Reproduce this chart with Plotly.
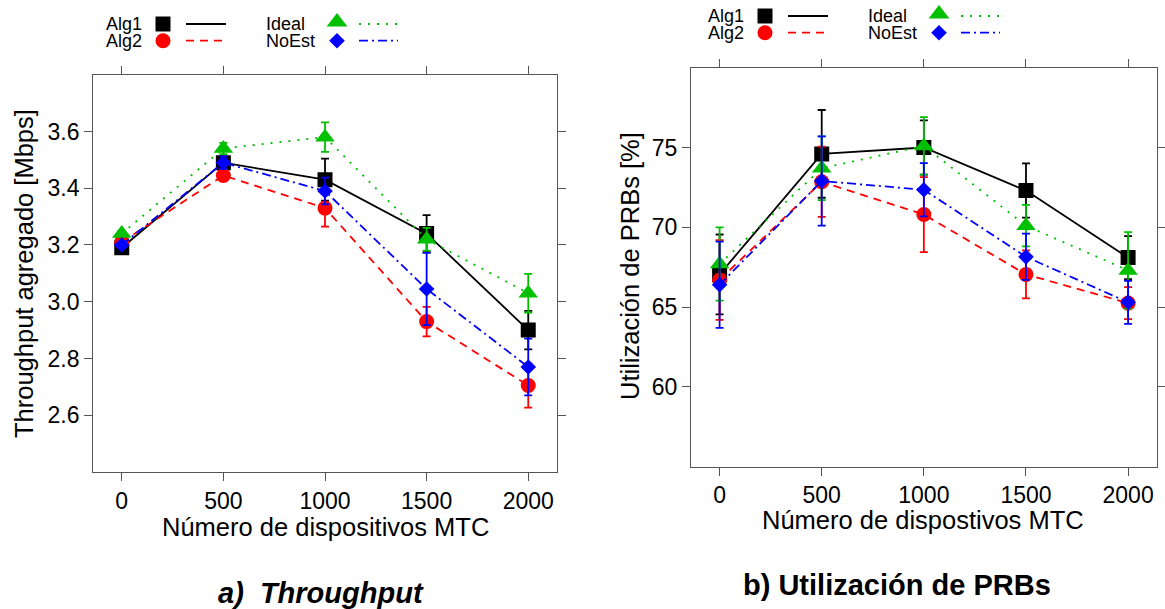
import plotly.graph_objects as go

W, H = 1165, 609

x_vals = [0, 500, 1000, 1500, 2000]
x_ticks = [0, 500, 1000, 1500, 2000]

# Throughput agregado [Mbps]
alg1_tp = [3.19, 3.49, 3.43, 3.24, 2.90]
alg1_tp_err = [0.01, 0.02, 0.074, 0.065, 0.068]
alg2_tp = [3.21, 3.445, 3.33, 2.93, 2.705]
alg2_tp_err = [0.015, 0.02, 0.065, 0.052, 0.078]
ideal_tp = [3.24, 3.54, 3.58, 3.22, 3.03]
ideal_tp_err = [0.01, 0.02, 0.052, 0.04, 0.068]
noest_tp = [3.20, 3.49, 3.39, 3.045, 2.77]
noest_tp_err = [0.01, 0.022, 0.047, 0.127, 0.10]
tp_ticks = [2.6, 2.8, 3.0, 3.2, 3.4, 3.6]

# Utilización de PRBs [%]
alg1_prb = [67.05, 74.6, 75.0, 72.3, 68.1]
alg1_prb_err = [2.5, 2.75, 1.7, 1.7, 1.35]
alg2_prb = [66.7, 72.85, 70.8, 67.05, 65.25]
alg2_prb_err = [2.5, 2.2, 2.35, 1.5, 1.0]
ideal_prb = [67.7, 73.7, 75.1, 70.1, 67.3]
ideal_prb_err = [2.3, 2.0, 1.8, 1.3, 2.4]
noest_prb = [66.4, 72.9, 72.35, 68.15, 65.3]
noest_prb_err = [2.7, 2.8, 1.67, 1.45, 1.35]
prb_ticks = [60, 65, 70, 75]

names = ["Alg1", "Alg2", "Ideal", "NoEst"]
colors = ["#000000", "#ff0000", "#00c000", "#0000ff"]
symbols = ["square", "circle", "triangle-up", "diamond"]
msizes = [15, 15, 17, 12]
dashes = ["solid", "8px,6px", "2px,7px", "9px,4px,2px,4px"]

FONT = "Liberation Sans, Arial, sans-serif"
FRAME = "#555555"

fig = go.Figure()

tp_series = [(alg1_tp, alg1_tp_err), (alg2_tp, alg2_tp_err),
             (ideal_tp, ideal_tp_err), (noest_tp, noest_tp_err)]
prb_series = [(alg1_prb, alg1_prb_err), (alg2_prb, alg2_prb_err),
              (ideal_prb, ideal_prb_err), (noest_prb, noest_prb_err)]

for axes, series in ((("x", "y"), tp_series), (("x2", "y2"), prb_series)):
    for i, (vals, errs) in enumerate(series):
        fig.add_trace(go.Scatter(
            x=x_vals, y=vals, xaxis=axes[0], yaxis=axes[1],
            mode="lines+markers", name=names[i], showlegend=False,
            line=dict(color=colors[i], width=1.8, dash=dashes[i]),
            marker=dict(symbol=symbols[i], size=msizes[i], color=colors[i],
                        line=dict(width=0)),
            error_y=dict(type="data", array=errs, visible=True,
                         color=colors[i], thickness=1.8, width=4),
        ))


def add_legend(ox, oy):
    layout_cols = [
        (ox, ox + 59, ox + 82, ox + 122, [0, 1]),
        (ox + 160, ox + 233, ox + 255, ox + 294, [2, 3]),
    ]
    for tx, mx, lx0, lx1, idxs in layout_cols:
        for r, idx in enumerate(idxs):
            yy = oy + r * 16.7
            fig.add_annotation(x=tx, y=yy, xref="x3", yref="y3", text=names[idx],
                               showarrow=False, xanchor="left", yanchor="middle",
                               font=dict(family=FONT, size=18, color="black"))
            fig.add_trace(go.Scatter(
                x=[mx], y=[yy - (2 if symbols[idx] == "triangle-up" else 0)],
                xaxis="x3", yaxis="y3", mode="markers", showlegend=False,
                hoverinfo="skip",
                marker=dict(symbol=symbols[idx], size=msizes[idx] + (1 if idx == 2 else 0),
                            color=colors[idx], line=dict(width=0))))
            fig.add_trace(go.Scatter(
                x=[lx0, lx1], y=[yy, yy], xaxis="x3", yaxis="y3", mode="lines",
                showlegend=False, hoverinfo="skip",
                line=dict(color=colors[idx], width=1.8, dash=dashes[idx])))


add_legend(104, 24)
add_legend(706, 16)

axis_common = dict(showline=True, linecolor=FRAME, linewidth=1.3, mirror="ticks",
                   ticks="outside", ticklen=8, tickwidth=1.3, tickcolor=FRAME,
                   showgrid=False, zeroline=False,
                   tickfont=dict(family=FONT, size=23, color="black"))

fig.update_layout(
    width=W, height=H, margin=dict(l=0, r=0, t=0, b=0),
    paper_bgcolor="white", plot_bgcolor="rgba(0,0,0,0)",
    xaxis=dict(domain=[93.3 / W, 556.7 / W], range=[-140, 2140],
               tickvals=x_ticks, anchor="y", **axis_common),
    yaxis=dict(domain=[1 - 472 / H, 1 - 74.7 / H], range=[2.4, 3.8],
               tickvals=tp_ticks, tickformat=".1f", anchor="x", **axis_common),
    xaxis2=dict(domain=[691 / W, 1156.7 / W], range=[-140, 2140],
                tickvals=x_ticks, anchor="y2", **axis_common),
    yaxis2=dict(domain=[1 - 466.7 / H, 1 - 67.7 / H], range=[55, 80],
                tickvals=prb_ticks, anchor="x2", **axis_common),
    xaxis3=dict(domain=[0, 1], range=[0, W], visible=False, fixedrange=True,
                anchor="y3"),
    yaxis3=dict(domain=[0, 1], range=[H, 0], visible=False, fixedrange=True,
                anchor="x3"),
    showlegend=False,
)


def pix_ann(text, x, y, size, angle=0):
    fig.add_annotation(x=x, y=y, xref="x3", yref="y3", text=text, showarrow=False,
                       xanchor="center", yanchor="middle", textangle=angle,
                       font=dict(family=FONT, size=size, color="black"))


pix_ann("Throughput agregado [Mbps]", 24, 274, 25.5, angle=-90)
pix_ann("Número de dispositivos MTC", 325, 527, 25.5)
pix_ann("Utilización de PRBs [%]", 630, 266, 25.5, angle=-90)
pix_ann("Número de dispostivos MTC", 923, 520, 25.5)
pix_ann("<b><i>a)&nbsp;&nbsp;Throughput</i></b>", 321, 593, 29)
pix_ann("<b>b) Utilización de PRBs</b>", 897, 585, 29)

fig.write_html("out.html")
